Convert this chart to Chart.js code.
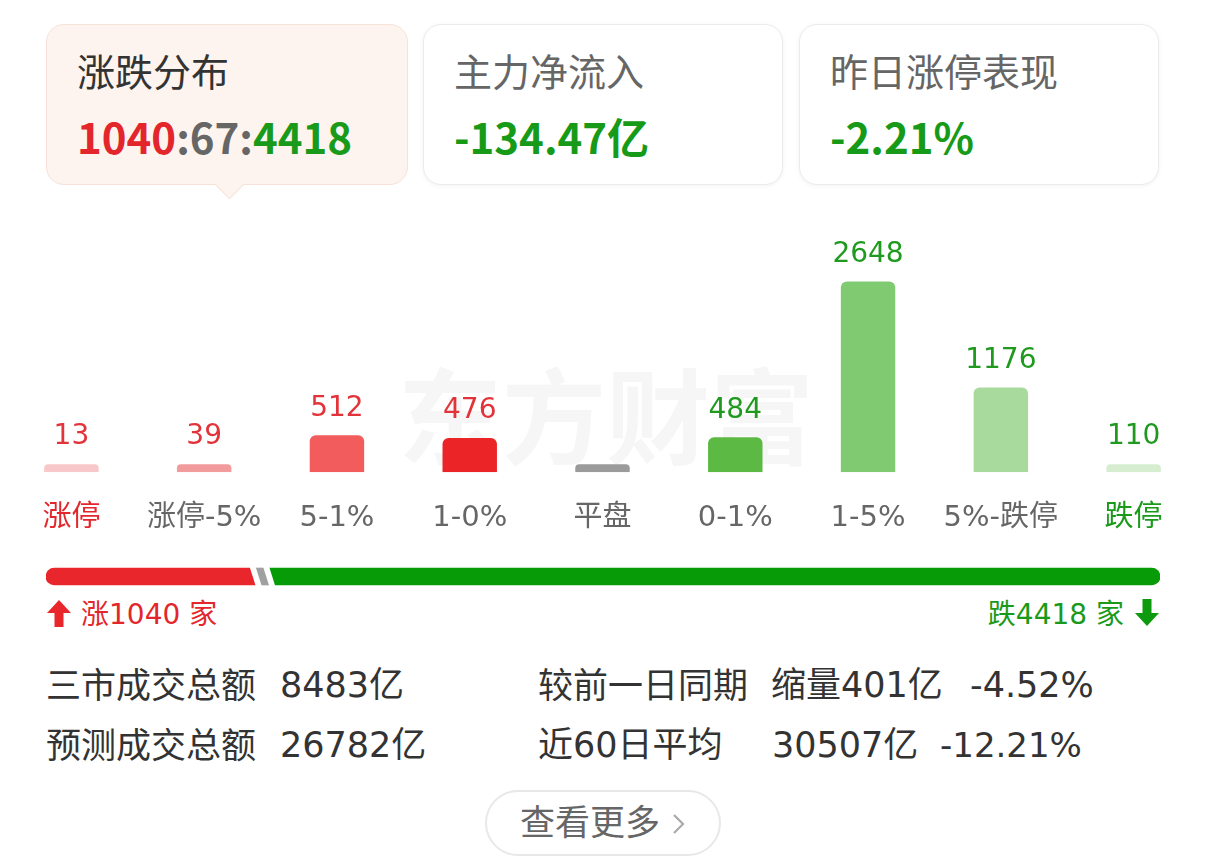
<!DOCTYPE html>
<html lang="zh-CN">
<head>
<meta charset="UTF-8">
<title>涨跌分布</title>
<script src="https://cdn.jsdelivr.net/npm/chart.js@4"></script>
<style>
  body { margin: 0; width: 1206px; height: 868px; background: #fff; position: relative; overflow: hidden;
         font-family: "Noto Sans CJK SC", sans-serif; }
  .abs { position: absolute; white-space: nowrap; line-height: 1; }
  .num { font-family: "DejaVu Sans", "Noto Sans CJK SC", sans-serif; }
  .card { position: absolute; top: 24px; height: 161px; border-radius: 18px; box-sizing: border-box;
          background: #fff; border: 1.5px solid #ebebeb; box-shadow: 0 1px 5px rgba(0,0,0,0.05); }
  .card.active { background: #fdf4ef; border-color: #f6e2d8; box-shadow: none; }
  .card .title { position: absolute; left: 30px; top: 26px; font-size: 38px; line-height: 1; color: #666; }
  .card.active .title { color: #333; }
  .card .value { position: absolute; left: 30px; top: 90px; font-size: 42px; line-height: 1; font-weight: bold; color: #179a17; }
  .pointer { position: absolute; left: 172px; bottom: -11px; width: 20px; height: 20px; background: #fdf4ef;
             border-right: 1.5px solid #f6e2d8; border-bottom: 1.5px solid #f6e2d8; transform: rotate(45deg); }
  .red { color: #e3262b; }
  .green { color: #1a9a1a; }
  .gray { color: #666; }
  .watermark { position: absolute; left: 398px; top: 360px; font-size: 104px; font-weight: bold; color: #f6f6f6; line-height: 1; }
  .stat { font-size: 35px; color: #333; }
  .btn { position: absolute; left: 485px; top: 790px; width: 236px; height: 66px; box-sizing: border-box;
         border: 2px solid #e8e8e8; border-radius: 33px; }
</style>
</head>
<body>

<!-- summary cards -->
<div class="card active" style="left:46px; width:362px;">
  <div class="title">涨跌分布</div>
  <div class="value" id="ratio"></div>
  <div class="pointer"></div>
</div>
<div class="card" style="left:423px; width:360px;">
  <div class="title">主力净流入</div>
  <div class="value">-134.47亿</div>
</div>
<div class="card" style="left:799px; width:360px;">
  <div class="title">昨日涨停表现</div>
  <div class="value">-2.21%</div>
</div>

<div class="watermark">东方财富</div>

<canvas id="distChart" width="1206" height="373" style="position:absolute; left:0; top:192px;"></canvas>
<canvas id="breadthChart" width="1206" height="37" style="position:absolute; left:0; top:558px;"></canvas>

<!-- up / down counts -->
<svg class="abs" style="left:47px; top:600px;" width="24" height="27" viewBox="0 0 24 27">
  <path d="M12 0 L24 13 L16.5 13 L16.5 27 L7.5 27 L7.5 13 L0 13 Z" fill="#e8262b"/>
</svg>
<div class="abs red num" id="upText" style="left:81px; top:601px; font-size:28px;"></div>
<div class="abs green num" id="downText" style="right:82px; top:601px; font-size:28px;"></div>
<svg class="abs" style="left:1135px; top:599px;" width="24" height="27" viewBox="0 0 24 27">
  <path d="M12 27 L24 14 L16.5 14 L16.5 0 L7.5 0 L7.5 14 L0 14 Z" fill="#0e9a0e"/>
</svg>

<!-- turnover stats -->
<div class="abs stat" style="left:46px; top:665px;">三市成交总额</div>
<div class="abs stat num" style="left:280px; top:668px;">8483亿</div>
<div class="abs stat" style="left:538px; top:665px;">较前一日同期</div>
<div class="abs stat num green" style="left:771px; top:668px;">缩量401亿</div>
<div class="abs stat num green" style="left:970px; top:668px;">-4.52%</div>
<div class="abs stat" style="left:46px; top:725px;">预测成交总额</div>
<div class="abs stat num" style="left:280px; top:728px;">26782亿</div>
<div class="abs stat num" style="left:538px; top:728px;">近60日平均</div>
<div class="abs stat num" style="left:772px; top:728px;">30507亿</div>
<div class="abs stat num green" style="left:940px; top:728px; font-size:34px;">-12.21%</div>

<div class="btn">
  <div class="abs gray" style="left:33px; top:10px; font-size:35px;">查看更多</div>
  <svg class="abs" style="left:185px; top:21px;" width="14" height="22" viewBox="0 0 14 22">
    <path d="M2 2 L11 11 L2 20" fill="none" stroke="#aaa" stroke-width="2.2"/>
  </svg>
</div>

<script>
// DATA
const categories = ['涨停', '涨停-5%', '5-1%', '1-0%', '平盘', '0-1%', '1-5%', '5%-跌停', '跌停'];
const counts = [13, 39, 512, 476, 67, 484, 2648, 1176, 110];
const showCount = [true, true, true, true, false, true, true, true, true];
const barColors = ['#f8c8c9', '#f29b9c', '#f25c5d', '#ea2427', '#9b9b9b', '#5bb944', '#80cb72', '#a9da9d', '#d6eecf'];
const countColors = ['#e3333a', '#e3333a', '#e3333a', '#e3333a', '#999', '#1f9a1f', '#1f9a1f', '#1f9a1f', '#1f9a1f'];
const tickColors = ['#e3262b', '#666', '#666', '#666', '#666', '#666', '#666', '#666', '#1a9a1a'];

const breadthLabels = ['涨', '平', '跌'];
const breadthValues = [1040, 67, 4418];
const breadthColors = ['#e8262b', '#a0a0a0', '#079b07'];

// text pieces built from the data
document.getElementById('ratio').innerHTML =
  '<span class="red">' + breadthValues[0] + '</span><span style="color:#666">:' + breadthValues[1] +
  ':</span><span class="green">' + breadthValues[2] + '</span>';
document.getElementById('upText').textContent = breadthLabels[0] + breadthValues[0] + ' 家';
document.getElementById('downText').textContent = breadthLabels[2] + breadthValues[2] + ' 家';

const FONT = '"DejaVu Sans", "Noto Sans CJK SC", sans-serif';

// --- count labels above the bars ---
const countLabels = {
  id: 'countLabels',
  afterDatasetsDraw(chart) {
    const ctx = chart.ctx;
    const meta = chart.getDatasetMeta(0);
    ctx.save();
    ctx.font = '28px ' + FONT;
    ctx.textAlign = 'center';
    ctx.textBaseline = 'middle';
    meta.data.forEach((bar, i) => {
      if (!showCount[i]) return;
      ctx.fillStyle = countColors[i];
      ctx.fillText(counts[i], bar.x, bar.y - 27);
    });
    ctx.restore();
  }
};

new Chart(document.getElementById('distChart'), {
  type: 'bar',
  data: {
    labels: categories,
    datasets: [{
      data: counts,
      backgroundColor: barColors,
      borderRadius: { topLeft: 6, topRight: 6 },
      borderSkipped: 'bottom',
      minBarLength: 8,
      barPercentage: 0.41,
      categoryPercentage: 1
    }]
  },
  options: {
    responsive: false,
    animation: false,
    devicePixelRatio: 1,
    layout: { padding: { left: 5, right: 6, top: 0, bottom: 0 } },
    plugins: { legend: { display: false }, tooltip: { enabled: false } },
    scales: {
      x: {
        grid: { display: false, drawTicks: false },
        border: { display: false },
        ticks: {
          color: (c) => tickColors[c.index],
          font: { size: 29, family: FONT },
          padding: 29,
          maxRotation: 0,
          autoSkip: false
        }
      },
      y: { display: false, min: 0, max: 3890 }
    }
  },
  plugins: [countLabels]
});

// --- slanted white gaps between the breadth segments ---
const slantGaps = {
  id: 'slantGaps',
  afterDatasetsDraw(chart) {
    const ctx = chart.ctx;
    const xs = chart.scales.x;
    const bar = chart.getDatasetMeta(0).data[0];
    const top = bar.y - bar.height / 2 - 1, bottom = bar.y + bar.height / 2 + 1;
    let sum = 0;
    ctx.save();
    ctx.fillStyle = '#fff';
    for (let i = 0; i < breadthValues.length - 1; i++) {
      sum += breadthValues[i];
      const x = xs.getPixelForValue(sum);
      ctx.beginPath();
      ctx.moveTo(x - 6, top);
      ctx.lineTo(x, top);
      ctx.lineTo(x + 6, bottom);
      ctx.lineTo(x, bottom);
      ctx.closePath();
      ctx.fill();
    }
    ctx.restore();
  }
};

const total = breadthValues.reduce((a, b) => a + b, 0);
new Chart(document.getElementById('breadthChart'), {
  type: 'bar',
  data: {
    labels: [''],
    datasets: breadthValues.map((v, i) => ({
      label: breadthLabels[i],
      data: [v],
      backgroundColor: breadthColors[i],
      borderSkipped: false,
      borderRadius: i === 0 ? { topLeft: 9, bottomLeft: 9 }
                  : i === breadthValues.length - 1 ? { topRight: 9, bottomRight: 9 } : 0,
      barThickness: 17
    }))
  },
  options: {
    indexAxis: 'y',
    responsive: false,
    animation: false,
    devicePixelRatio: 1,
    layout: { padding: { left: 46, right: 46, top: 0, bottom: 0 } },
    plugins: { legend: { display: false }, tooltip: { enabled: false } },
    scales: {
      x: { display: false, stacked: true, min: 0, max: total },
      y: { display: false, stacked: true }
    }
  },
  plugins: [slantGaps]
});
</script>
</body>
</html>
